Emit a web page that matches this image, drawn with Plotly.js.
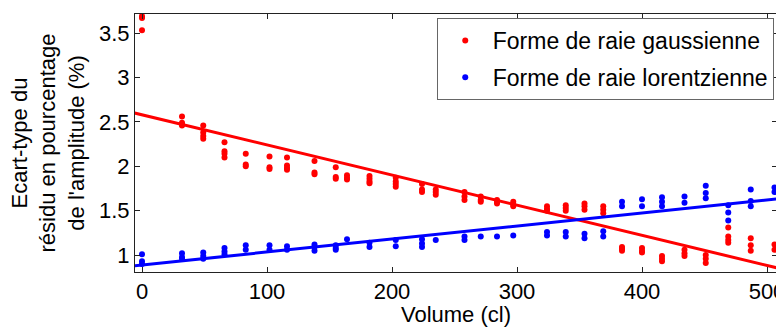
<!DOCTYPE html>
<html>
<head>
<meta charset="utf-8">
<script src="https://cdn.plot.ly/plotly-3.0.1.min.js"></script>
<style>html,body{margin:0;padding:0;overflow:hidden;background:#fff;}</style>
</head>
<body>
<div id="chart"></div>
<script>
const gaussX = [0,0,0, 32,32,32,32, 49,49,49,49, 66,66,66,66, 83,83,83, 102,102,102,
  116,116,116,116, 138,138,138, 155,155,155, 164,164,164, 182,182,182,182, 203,203,203,203,
  224,224,224, 235,235,235, 258,258,258, 271,271,271, 284,284,284, 297,297,297,
  324,324,324, 339,339,339, 354,354,354, 369,369,369, 384,384,384, 400,400,400,
  416,416,416, 434,434,434, 451,451,451, 469,469,469,469, 487,487,487, 506,506];
const gaussY = [3.69,3.67,3.53, 2.56,2.49,2.47,2.46, 2.46,2.38,2.34,2.31, 2.27,2.17,2.14,2.10,
  2.14,2.02,2.00, 2.11,1.99,1.97, 2.10,2.01,1.98,1.96, 2.06,1.93,1.91, 1.99,1.88,1.86,
  1.90,1.87,1.85, 1.89,1.86,1.83,1.81, 1.87,1.83,1.80,1.77, 1.80,1.74,1.71, 1.74,1.71,1.68,
  1.71,1.66,1.62, 1.66,1.62,1.60, 1.62,1.60,1.58, 1.60,1.57,1.55, 1.55,1.52,1.50,
  1.56,1.53,1.50, 1.58,1.55,1.51, 1.55,1.51,1.47, 1.09,1.07,1.05, 1.08,1.05,1.03,
  0.99,0.96,0.93, 1.06,1.02,0.99, 1.00,0.96,0.91, 1.31,1.21,1.17,1.14, 1.19,1.11,1.05, 1.12,1.06];
const lorentzX = [0,0,0, 32,32,32, 49,49,49, 66,66,66, 83,83, 102,102, 116,116, 138,138,138,
  155,155,155, 164, 182,182, 203,203, 224,224,224, 235, 258,258, 271, 284, 297, 324,324,
  339,339, 354,354, 369,369, 384,384, 400,400, 416,416,416, 434,434, 451,451,451,
  469,469,469, 487,487,487, 506,506];
const lorentzY = [1.01,0.93,0.90, 1.02,0.98,0.96, 1.03,0.99,0.96, 1.08,1.04,1.01, 1.11,1.06,
  1.11,1.06, 1.10,1.06, 1.12,1.09,1.05, 1.11,1.08,1.06, 1.18, 1.14,1.09, 1.17,1.10,
  1.18,1.13,1.09, 1.17, 1.21,1.17, 1.21, 1.21, 1.22, 1.26,1.22, 1.26,1.21, 1.24,1.19,
  1.27,1.21, 1.60,1.55, 1.63,1.55, 1.65,1.60,1.55, 1.66,1.59, 1.78,1.70,1.64,
  1.56,1.48,1.39, 1.74,1.61,1.55, 1.76,1.71];
const fitX = [-6, 510];
const gaussFit = [2.60, 0.85];
const lorentzFit = [0.88, 1.635];
const xTicks = [0, 100, 200, 300, 400, 500];
const yTicks = [1, 1.5, 2, 2.5, 3, 3.5];
const yTickText = ['1', '1.5', '2', '2.5', '3', '3.5'];

const FONT = 'Liberation Sans, Arial, sans-serif';
const FS = 22;
const traces = [
  {x: gaussX, y: gaussY, mode: 'markers', type: 'scatter', name: 'Forme de raie gaussienne',
   legendgroup: 'g', marker: {color: '#ff0000', size: 6}},
  {x: lorentzX, y: lorentzY, mode: 'markers', type: 'scatter', name: 'Forme de raie lorentzienne',
   legendgroup: 'l', marker: {color: '#0000ff', size: 6}},
  {x: fitX, y: gaussFit, mode: 'lines', type: 'scatter', showlegend: false,
   line: {color: '#ff0000', width: 3}},
  {x: fitX, y: lorentzFit, mode: 'lines', type: 'scatter', showlegend: false,
   line: {color: '#0000ff', width: 3}}
];
const axisCommon = {
  showgrid: false, zeroline: false, showline: true, linecolor: '#222', linewidth: 1,
  mirror: 'ticks', ticks: 'inside', ticklen: 5, tickcolor: '#222',
  ticklabeloverflow: 'allow',
  tickfont: {family: FONT, size: FS, color: '#000'}
};
const layout = {
  width: 800, height: 327,
  margin: {l: 135, r: 23, t: 14, b: 55},
  paper_bgcolor: '#fff', plot_bgcolor: '#fff',
  font: {family: FONT, size: FS, color: '#000'},
  xaxis: Object.assign({}, axisCommon, {
    range: [-5.6, 508], tickvals: xTicks, ticktext: xTicks.map(String),
    title: {text: 'Volume (cl)', font: {family: FONT, size: FS}, standoff: 2}
  }),
  yaxis: Object.assign({}, axisCommon, {
    range: [0.81, 3.714], tickvals: yTicks, ticktext: yTickText,
    title: {text: 'Ecart-type du<br>résidu en pourcentage<br>de l\'amplitude (%)', font: {family: FONT, size: FS}, standoff: 8}
  }),
  legend: {
    x: 0.470, y: 0.9845, xanchor: 'left', yanchor: 'top',
    bgcolor: '#fff', bordercolor: '#666', borderwidth: 1,
    itemwidth: 45, traceorder: 'grouped', tracegroupgap: 4,
    font: {family: FONT, size: 23, color: '#000'}
  },
  showlegend: true
};
Plotly.newPlot('chart', traces, layout, {displayModeBar: false, staticPlot: true});
</script>
</body>
</html>
